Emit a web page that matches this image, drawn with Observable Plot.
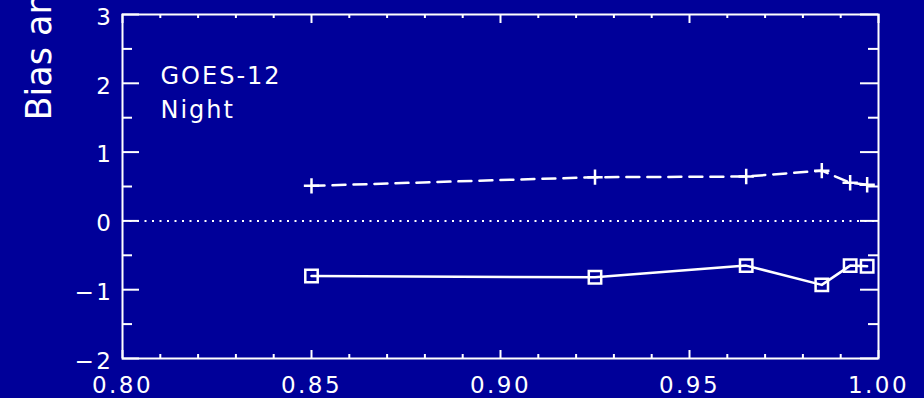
<!DOCTYPE html>
<html>
<head>
<meta charset="utf-8">
<script src="https://cdn.jsdelivr.net/npm/d3@7"></script>
<script src="https://cdn.jsdelivr.net/npm/@observablehq/plot@0.6"></script>
<style>
  html, body { margin: 0; padding: 0; background: #000099; overflow: hidden; }
  .idl-plot text { font-family: "DejaVu Sans", sans-serif; }
  .idl-plot [aria-label="x-axis tick label"] text,
  .idl-plot [aria-label="y-axis tick label"] text { letter-spacing: 2.5px; }
  .idl-plot .note text { letter-spacing: 2px; }
</style>
</head>
<body>
<div id="chart"></div>
<script>
// Clear-sky fraction (x) against bias / RMS of brightness temperature (K)
const fraction   = [0.85, 0.925, 0.965, 0.985, 0.9925, 0.997];
const rmsValues  = [0.51, 0.635, 0.645, 0.73, 0.555, 0.525];
const biasValues = [-0.80, -0.82, -0.65, -0.93, -0.65, -0.66];

// Axis ticks
const xTicks      = [0.80, 0.85, 0.90, 0.95, 1.00];
const xMinorTicks = [0.81, 0.82, 0.83, 0.84, 0.86, 0.87, 0.88, 0.89, 0.91, 0.92, 0.93, 0.94,
                     0.96, 0.97, 0.98, 0.99];
const yTicks      = [-2, -1, 0, 1, 2, 3];
const yMinorTicks = [-1.5, -0.5, 0.5, 1.5, 2.5];

// Text
const annotation = ["GOES-12", "Night"];
const yLabel = "Bias and RMS (K)";

// Layout
const W = 924, H = 398;
const M = {top: 14, right: 46, bottom: 40, left: 122};
const frameW = W - M.left - M.right;
const frameH = H - M.top - M.bottom;
const bg = "#000099";

const rows = fraction.map((f, i) => ({fraction: f, rms: rmsValues[i], bias: biasValues[i]}));

const chart = Plot.plot({
  width: W,
  height: H,
  marginTop: M.top,
  marginRight: M.right,
  marginBottom: M.bottom,
  marginLeft: M.left,
  className: "idl-plot",
  style: {background: bg, color: "white", overflow: "visible"},
  x: {domain: [0.8, 1.0], axis: null},
  y: {domain: [-2, 3], axis: null},
  marks: [
    // zero reference
    Plot.ruleY([0], {stroke: "white", strokeWidth: 2, strokeDasharray: "2,5.5"}),

    // inward ticks: left / right
    Plot.ruleY(yTicks, {stroke: "white", strokeWidth: 2, insetRight: frameW - 17}),
    Plot.ruleY(yMinorTicks, {stroke: "white", strokeWidth: 2, insetRight: frameW - 10}),
    Plot.ruleY(yTicks, {stroke: "white", strokeWidth: 2, insetLeft: frameW - 18}),
    Plot.ruleY(yMinorTicks, {stroke: "white", strokeWidth: 2, insetLeft: frameW - 10}),
    // inward ticks: bottom / top
    Plot.ruleX(xTicks, {stroke: "white", strokeWidth: 2, insetTop: frameH - 8}),
    Plot.ruleX(xMinorTicks, {stroke: "white", strokeWidth: 2, insetTop: frameH - 4}),
    Plot.ruleX(xTicks, {stroke: "white", strokeWidth: 2, insetBottom: frameH - 9}),
    Plot.ruleX(xMinorTicks, {stroke: "white", strokeWidth: 2, insetBottom: frameH - 4}),

    Plot.frame({stroke: "white", strokeWidth: 2}),

    // tick labels
    Plot.axisX(xTicks, {anchor: "bottom", tickSize: 0, tickPadding: 18, fontSize: 23,
      tickFormat: d3.format(".2f"), fill: "white", label: null}),
    Plot.axisY(yTicks, {anchor: "left", tickSize: 0, tickPadding: 9, fontSize: 23, dy: 3,
      tickFormat: d3.format("d"), fill: "white", label: null}),

    // RMS: dashed with plus markers
    Plot.line(rows, {x: "fraction", y: "rms", stroke: "white", strokeWidth: 2.5,
      strokeDasharray: "13,8"}),
    Plot.dot(rows, {x: "fraction", y: "rms", symbol: "plus", r: 5, stroke: "white",
      strokeWidth: 2.5}),

    // Bias: solid with square markers
    Plot.line(rows, {x: "fraction", y: "bias", stroke: "white", strokeWidth: 2.5}),
    Plot.dot(rows, {x: "fraction", y: "bias", symbol: "square", r: 7, stroke: "white",
      fill: "none", strokeWidth: 2.5}),

    // annotation
    Plot.text([annotation.join("\n")], {text: d => d, frameAnchor: "top-left",
      dx: 38, dy: 103, textAnchor: "start", lineAnchor: "bottom", lineHeight: 34 / 24,
      fontSize: 24, fill: "white", className: "note"}),

    // y-axis title
    Plot.text([yLabel], {text: d => d, frameAnchor: "top-left", dx: 50 - M.left, dy: 120 - M.top,
      rotate: -90, textAnchor: "start", lineAnchor: "bottom", fontSize: 35, fill: "white"})
  ]
});

document.getElementById("chart").appendChild(chart);
</script>
</body>
</html>
